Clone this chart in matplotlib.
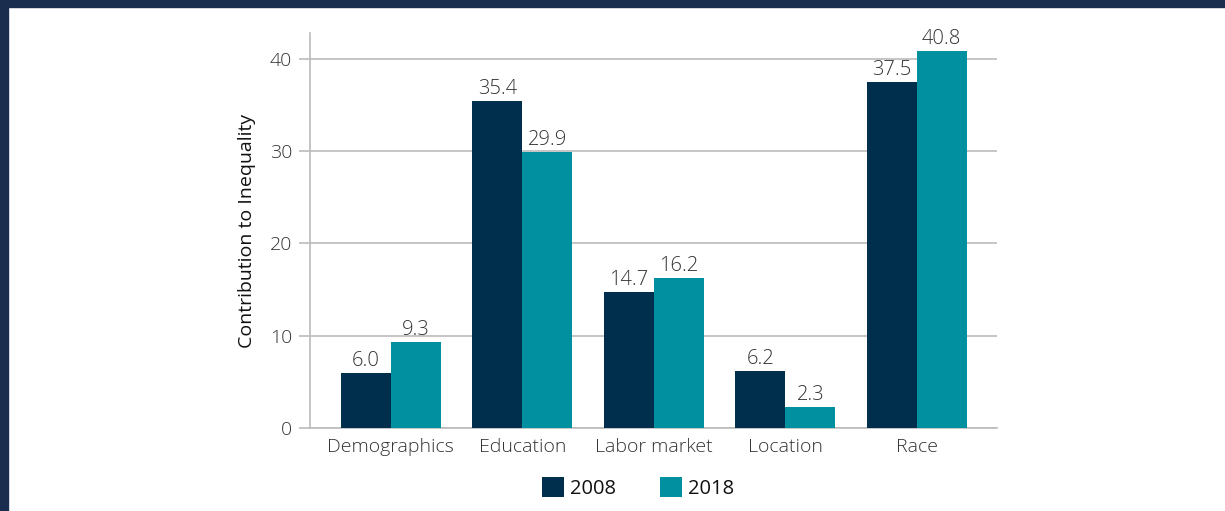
import matplotlib
matplotlib.use("Agg")
import matplotlib.pyplot as plt
import numpy as np
from matplotlib.patches import Rectangle

categories = ["Demographics", "Education", "Labor market", "Location", "Race"]
series_names = ["2008", "2018"]
values_2008 = [6.0, 35.4, 14.7, 6.2, 37.5]
values_2018 = [9.3, 29.9, 16.2, 2.3, 40.8]
yticks = [0, 10, 20, 30, 40]
ylabel = "Contribution to Inequality"

colors = ["#002f4e", "#00909f"]
plt.rcParams['font.family'] = ['Open Sans', 'DejaVu Sans']

fig = plt.figure(figsize=(12.25, 5.11), dpi=100)
W, H = 1225, 511
ax = fig.add_axes([310 / W, 1 - 428 / H, (997 - 310) / W, (428 - 33) / H])

x = np.arange(len(categories))
bw = 0.38
bars1 = ax.bar(x - bw / 2, values_2008, bw, color=colors[0], label=series_names[0], zorder=3)
bars2 = ax.bar(x + bw / 2, values_2018, bw, color=colors[1], label=series_names[1], zorder=3)

for bars, vals in ((bars1, values_2008), (bars2, values_2018)):
    for b, v in zip(bars, vals):
        ax.annotate(f"{v:.1f}", (b.get_x() + b.get_width() / 2, v), xytext=(0, 1.5),
                    textcoords="offset points", ha="center", va="bottom",
                    fontsize=14.5, color="#333333", fontweight="light")

ax.set_xlim(-0.615, 4.61)
ax.set_ylim(0, 42.8)
ax.set_yticks(yticks)
ax.set_xticks(x)
ax.set_xticklabels(categories)
ax.tick_params(axis="x", length=0, pad=7, labelsize=14, labelcolor="#333333")
ax.tick_params(axis="y", length=8, width=1.2, color="#bbbbbb", pad=5, labelsize=14, labelcolor="#333333")
for lbl in ax.get_xticklabels() + ax.get_yticklabels():
    lbl.set_fontweight("light")
ax.yaxis.grid(True, color="#bbbbbb", linewidth=1.2, zorder=0)
for s in ["top", "right"]:
    ax.spines[s].set_visible(False)
for s in ["left", "bottom"]:
    ax.spines[s].set_color("#bbbbbb")
    ax.spines[s].set_linewidth(1.2)
ax.set_ylabel(ylabel, fontsize=14, color="#111111", labelpad=10)

leg = fig.legend(handles=[bars1, bars2], labels=series_names, loc="center",
                 bbox_to_anchor=(638 / W, 1 - 488 / H), ncol=2, frameon=False,
                 fontsize=14.5, handlelength=1.1, handleheight=1.1,
                 handletextpad=0.3, columnspacing=2.2)
for t in leg.get_texts():
    t.set_color("#111111")

navy = "#1b2d4f"
fig.patches.append(Rectangle((0, 1 - 7 / H), 1, 7 / H, transform=fig.transFigure, color=navy, zorder=10))
fig.patches.append(Rectangle((0, 0), 8 / W, 1, transform=fig.transFigure, color=navy, zorder=10))

fig.savefig("out.png", dpi=100)
